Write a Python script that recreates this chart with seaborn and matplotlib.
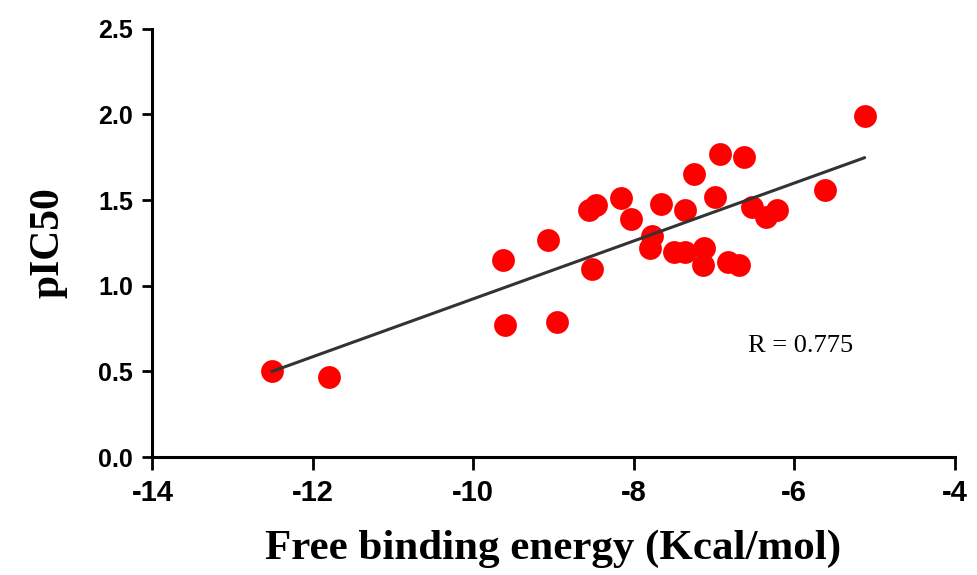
import matplotlib
matplotlib.use('Agg')
import matplotlib.pyplot as plt
import seaborn as sns
import pandas as pd

# Data
energy = [-12.51, -11.80, -9.63, -9.60, -9.07, -8.96, -8.52, -8.56, -8.47,
          -8.16, -8.03, -7.77, -7.80, -7.66, -7.50, -7.36, -7.36, -7.25,
          -7.12, -7.13, -6.99, -6.93, -6.83, -6.69, -6.63, -6.52, -6.35,
          -6.21, -5.62, -5.12]
pic50 = [0.50, 0.47, 1.15, 0.77, 1.27, 0.79, 1.10, 1.44, 1.47,
         1.51, 1.39, 1.29, 1.22, 1.48, 1.20, 1.44, 1.20, 1.65,
         1.22, 1.12, 1.52, 1.77, 1.14, 1.12, 1.75, 1.46, 1.40,
         1.44, 1.56, 1.99]
x_ticks = [-14, -12, -10, -8, -6, -4]
y_ticks = [0.0, 0.5, 1.0, 1.5, 2.0, 2.5]

df = pd.DataFrame({'energy': energy, 'pIC50': pic50})

sns.set_style('ticks')
plt.rcParams['font.family'] = ['Liberation Sans', 'DejaVu Sans']
plt.rcParams['text.color'] = 'black'

fig = plt.figure(figsize=(9.77, 5.75), dpi=100)
ax = fig.add_axes([0.156, 0.205, 0.821, 0.745])

sns.regplot(data=df, x='energy', y='pIC50', ci=None, ax=ax,
            scatter_kws={'s': 270, 'color': '#ff0000', 'linewidths': 0, 'alpha': 1, 'zorder': 2},
            line_kws={'color': '#333333', 'linewidth': 2.2, 'zorder': 3})

ax.set_xlim(-14, -4)
ax.set_ylim(0, 2.5)
ax.set_xticks(x_ticks)
ax.set_yticks(y_ticks)
ax.set_xticklabels([str(t) for t in x_ticks], fontsize=21, fontweight='bold', color='black')
ax.set_yticklabels([f'{t:.1f}' for t in y_ticks], fontsize=18, fontweight='bold', color='black')
ax.tick_params(axis='x', length=9, width=2, color='black', pad=7)
ax.tick_params(axis='y', length=7, width=2, color='black', pad=7)

sns.despine(ax=ax)
for side in ['left', 'bottom']:
    ax.spines[side].set_linewidth(2.2)
    ax.spines[side].set_color('black')

ax.set_xlabel('Free binding energy (Kcal/mol)', fontsize=31, fontweight='bold',
              family='Liberation Serif', labelpad=16, color='black')
ax.set_ylabel('pIC50', fontsize=30, fontweight='bold', family='Liberation Serif',
              labelpad=22, color='black')

ax.text(-6.58, 0.65, 'R = 0.775', fontsize=19, family='Liberation Serif', va='center')

fig.savefig('out.png', dpi=100)
